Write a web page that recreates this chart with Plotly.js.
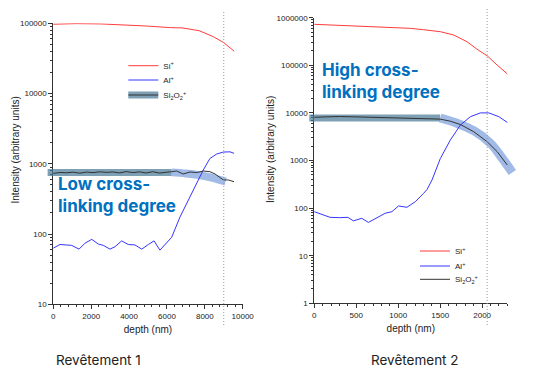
<!DOCTYPE html>
<html><head><meta charset="utf-8">
<script src="https://cdn.plot.ly/plotly-3.0.1.min.js"></script>
<style>html,body{margin:0;padding:0;background:#fff;}#chart{width:538px;height:375px;}</style>
</head><body><div id="chart"></div>
<script>
// ---------- Data: Revêtement 1 (left) ----------
const depthL_Si = [0, 1200, 2500, 3900, 4900, 6200, 6800, 7700, 8450, 9000, 9550];
const siL       = [97000, 99000, 98000, 95000, 91500, 86700, 86000, 78500, 64500, 53000, 40000];
const depthL_Al = [0, 350, 970, 1360, 1670, 2030, 2380, 2640, 2990, 3260, 3610, 3960, 4310, 4670, 5020, 5320, 5630, 5940, 6250, 6690, 7390, 7920, 8270, 8630, 8980, 9330, 9540];
const alL       = [63, 71, 69, 61, 74, 84, 72, 69, 61, 66, 80, 71, 70, 61, 71, 80, 59, 72, 90, 175, 424, 817, 1190, 1380, 1470, 1480, 1410];
const depthL_SiO = [0, 350, 700, 1050, 1400, 1750, 2100, 2450, 2800, 3150, 3500, 3850, 4200, 4550, 4900, 5250, 5600, 5950, 6250, 6510, 6860, 7220, 7570, 7920, 8270, 8540, 8800, 8980, 9240, 9540];
const sioL       = [730, 752, 745, 760, 735, 762, 748, 770, 755, 765, 742, 775, 750, 768, 740, 772, 738, 765, 773, 790, 716, 764, 750, 790, 773, 716, 643, 589, 589, 556];
const bandFlatL_x  = [-300, 6250];
const bandFlatL_y  = [750, 750];
const bandDropL_x  = [6250, 7000, 7700, 8300, 8800, 9100];
const bandDropL_y  = [755, 728, 690, 640, 590, 560];
const cutDepthL = 9000;
const xTicksL = [0, 2000, 4000, 6000, 8000, 10000];

// ---------- Data: Revêtement 2 (right) ----------
const depthR_Si = [0, 547, 1144, 1300, 1502, 1661, 1820, 1940, 2063, 2179, 2300];
const siR       = [726000, 670000, 598000, 560000, 508000, 433000, 313000, 217000, 157000, 101000, 66000];
const depthR_Al = [0, 100, 188, 300, 400, 466, 566, 645, 750, 845, 925, 1004, 1104, 1203, 1302, 1343, 1403, 1502, 1621, 1741, 1860, 1980, 2080, 2200, 2300];
const alR       = [84, 74, 64, 63, 64, 54, 61, 50, 64, 78, 84, 111, 104, 136, 204, 245, 390, 1100, 2690, 5570, 8320, 10000, 10000, 8320, 6300];
const depthR_SiO = [0, 150, 300, 500, 700, 900, 1100, 1300, 1500, 1620, 1741, 1900, 2060, 2180, 2300];
const sioR       = [8100, 8250, 8400, 8250, 8050, 7950, 7850, 7750, 7400, 6700, 5700, 4030, 2480, 1530, 803];
const bandFlatR_x  = [-60, 1500];
const bandFlatR_y  = [7800, 7800];
const bandDropR_x  = [1500, 1701, 1900, 2100, 2240, 2360];
const bandDropR_y  = [7800, 6050, 4230, 2290, 1110, 560];
const cutDepthR = 2060;
const xTicksR = [0, 500, 1000, 1500, 2000];

// ---------- Labels ----------
const nameSi = 'Si<sup>+</sup>';
const nameAl = 'Al<sup>+</sup>';
const nameSiO = 'Si<sub>2</sub>O<sub>2</sub><sup>+</sup>';
const yTitle = 'Intensity (arbitrary units)';
const xTitle = 'depth (nm)';
const panelL = 'Revêtement 1';
const panelR = 'Revêtement 2';
const noteL = 'Low cross-<br>linking degree';
const noteR = 'High cross-<br>linking degree';

// ---------- Layout geometry (pixels) ----------
const W = 538, H = 375;
const fx = p => p / W, fy = p => 1 - p / H;
const Lx = [53.3, 242.7], Ly = [304.3, 23.3];
const Rx = [314.3, 507.3], Ry = [303.3, 17.7];
const xrL = [0, 10000], xrR = [0, 2300];
function ext(px, r, e0, e1) {
  const k = (r[1] - r[0]) / (px[1] - px[0]);
  return {domain: [fx(px[0] - e0), fx(px[1] + e1)], range: [r[0] - e0 * k, r[1] + e1 * k]};
}
const eL = ext(Lx, xrL, 10, 10), eR = ext(Rx, xrR, 10, 14);

const FONT = 'Liberation Sans, Arial, sans-serif';
const cRed = '#ff3b3b', cBlue = '#3535ff', cBlack = '#333333';
const cBandFlat = 'rgba(70,120,150,0.7)', cBandDrop = 'rgba(105,145,215,0.62)';

const traces = [
  {x: bandFlatL_x, y: bandFlatL_y, xaxis: 'x3', yaxis: 'y', mode: 'lines', line: {color: cBandFlat, width: 7}, name: ' ', legend: 'legend3', showlegend: true, hoverinfo: 'skip'},
  {x: bandDropL_x, y: bandDropL_y, xaxis: 'x3', yaxis: 'y', mode: 'lines', line: {color: cBandDrop, width: 8, shape: 'spline'}, showlegend: false, hoverinfo: 'skip'},
  {x: depthL_Si, y: siL, xaxis: 'x3', yaxis: 'y', mode: 'lines', line: {color: cRed, width: 1}, name: nameSi, legend: 'legend'},
  {x: depthL_Al, y: alL, xaxis: 'x3', yaxis: 'y', mode: 'lines', line: {color: cBlue, width: 1}, name: nameAl, legend: 'legend2'},
  {x: depthL_SiO, y: sioL, xaxis: 'x3', yaxis: 'y', mode: 'lines', line: {color: cBlack, width: 1}, name: nameSiO, legend: 'legend4'},
  {x: bandFlatR_x, y: bandFlatR_y, xaxis: 'x4', yaxis: 'y2', mode: 'lines', line: {color: cBandFlat, width: 7}, showlegend: false, hoverinfo: 'skip'},
  {x: bandDropR_x, y: bandDropR_y, xaxis: 'x4', yaxis: 'y2', mode: 'lines', line: {color: cBandDrop, width: 9, shape: 'spline'}, showlegend: false, hoverinfo: 'skip'},
  {x: depthR_Si, y: siR, xaxis: 'x4', yaxis: 'y2', mode: 'lines', line: {color: cRed, width: 1}, name: nameSi, legend: 'legend5'},
  {x: depthR_Al, y: alR, xaxis: 'x4', yaxis: 'y2', mode: 'lines', line: {color: cBlue, width: 1}, name: nameAl, legend: 'legend6'},
  {x: depthR_SiO, y: sioR, xaxis: 'x4', yaxis: 'y2', mode: 'lines', line: {color: cBlack, width: 1}, name: nameSiO, legend: 'legend7'}
];

const tickF = {family: FONT, size: 8, color: '#222'};
const titleF = {family: FONT, size: 10, color: '#222'};
function xAx(px, r, ticks, mdt, anchor) {
  return {domain: [fx(px[0]), fx(px[1])], range: r, anchor: anchor, showline: true, linecolor: '#333', linewidth: 1,
    ticks: 'outside', ticklen: 4, tickcolor: '#333', tickmode: 'array', tickvals: ticks, ticktext: ticks.map(String),
    ticklabeloverflow: 'allow', tickfont: tickF, showgrid: false, zeroline: false,
    minor: {dtick: mdt, tick0: 0, ticks: 'outside', ticklen: 2, tickcolor: '#333'},
    title: {text: xTitle, font: titleF, standoff: 6}};
}
function yAx(py, r, anchor) {
  return {domain: [fy(py[0]), fy(py[1])], range: r, type: 'log', anchor: anchor, showline: true, linecolor: '#333', linewidth: 1,
    ticks: 'outside', ticklen: 4, tickcolor: '#333', dtick: 1, tickformat: 'd', tickfont: tickF, showgrid: false, zeroline: false,
    minor: {dtick: 'D1', ticks: 'outside', ticklen: 2, tickcolor: '#333'}};
}
function leg(px, py) {
  return {x: fx(px - 5), y: fy(py), xanchor: 'left', yanchor: 'middle', bgcolor: 'rgba(0,0,0,0)', borderwidth: 0,
    font: {family: FONT, size: 8, color: '#222'}, itemwidth: 30};
}
const noteF = {family: 'Inter, Roboto, sans-serif', size: 17, color: '#0070C0', weight: 700};
const layout = {
  width: W, height: H, margin: {l: 0, r: 0, t: 0, b: 0}, paper_bgcolor: '#fff', plot_bgcolor: 'rgba(0,0,0,0)',
  xaxis: xAx(Lx, xrL, xTicksL, 400, 'y'),
  yaxis: yAx(Ly, [1, 5], 'x'),
  xaxis2: xAx(Rx, xrR, xTicksR, 100, 'y2'),
  yaxis2: yAx(Ry, [0, 6], 'x2'),
  xaxis3: {domain: eL.domain, range: eL.range, anchor: 'y', visible: false},
  xaxis4: {domain: eR.domain, range: eR.range, anchor: 'y2', visible: false},
  legend: leg(128.3, 65.7), legend2: leg(128.3, 80), legend3: leg(128.3, 95), legend4: leg(128.3, 95),
  legend5: leg(420, 251), legend6: leg(420, 266), legend7: leg(420, 279.3),
  shapes: [
    {type: 'line', xref: 'x', yref: 'paper', x0: cutDepthL, x1: cutDepthL, y0: fy(325), y1: fy(12), line: {color: '#9a9a9a', width: 1, dash: '1px,2px'}},
    {type: 'line', xref: 'x2', yref: 'paper', x0: cutDepthR, x1: cutDepthR, y0: fy(325), y1: fy(8), line: {color: '#9a9a9a', width: 1, dash: '1px,2px'}}
  ],
  annotations: [
    {text: noteL, xref: 'paper', yref: 'paper', x: fx(56), y: fy(172), xanchor: 'left', yanchor: 'top', align: 'left', showarrow: false, font: noteF},
    {text: noteR, xref: 'paper', yref: 'paper', x: fx(320), y: fy(58), xanchor: 'left', yanchor: 'top', align: 'left', showarrow: false, font: noteF},
    {text: panelL, xref: 'paper', yref: 'paper', x: fx(54), y: fy(360), xanchor: 'left', yanchor: 'middle', showarrow: false, font: {family: 'Inter, sans-serif', size: 13.5, color: '#222'}},
    {text: panelR, xref: 'paper', yref: 'paper', x: fx(369), y: fy(360), xanchor: 'left', yanchor: 'middle', showarrow: false, font: {family: 'Inter, sans-serif', size: 13.5, color: '#222'}},
    {text: yTitle, xref: 'paper', yref: 'paper', x: fx(14.5), y: fy(150), xanchor: 'center', yanchor: 'middle', textangle: -90, showarrow: false, font: titleF},
    {text: yTitle, xref: 'paper', yref: 'paper', x: fx(270), y: fy(150), xanchor: 'center', yanchor: 'middle', textangle: -90, showarrow: false, font: titleF}
  ]
};
Plotly.newPlot('chart', traces, layout, {staticPlot: true, displayModeBar: false});
</script></body></html>
